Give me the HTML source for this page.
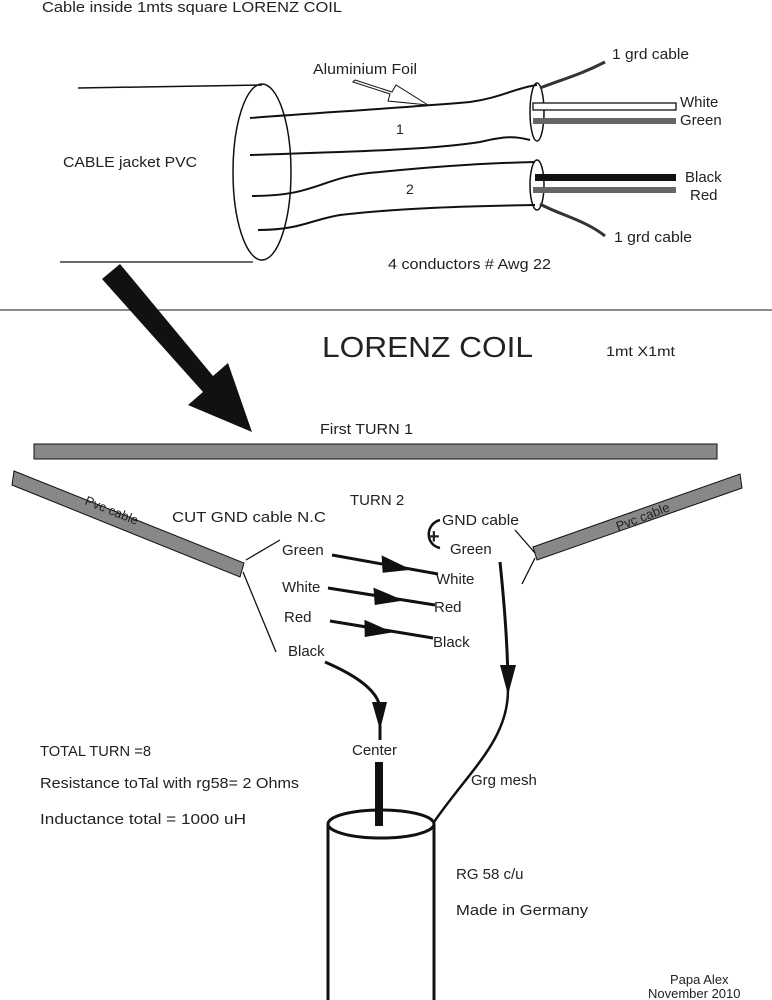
<!DOCTYPE html>
<html><head><style>
html,body{margin:0;padding:0;background:#fff;}
svg{display:block;}
text{font-family:"Liberation Sans",sans-serif;fill:#222;}
</style></head><body>
<svg width="772" height="1000" viewBox="0 0 772 1000" xmlns="http://www.w3.org/2000/svg">
<text x="42" y="12" font-size="15" textLength="300" lengthAdjust="spacingAndGlyphs">Cable inside  1mts square LORENZ  COIL</text>
<line x1="78" y1="88" x2="262" y2="85" stroke="#111" stroke-width="1.5"/>
<line x1="60" y1="262" x2="253" y2="262" stroke="#111" stroke-width="1.3"/>
<ellipse cx="262" cy="172" rx="29" ry="88" fill="none" stroke="#111" stroke-width="1.5"/>
<path d="M250,118 C330,112 400,108 470,102 C500,98 515,88 537,85" fill="none" stroke="#111" stroke-width="2"/>
<path d="M250,155 C340,152 430,150 480,142 C505,136 515,136 530,140" fill="none" stroke="#111" stroke-width="2"/>
<path d="M252,196 C320,196 320,176 380,172 C440,166 490,163 535,162" fill="none" stroke="#111" stroke-width="2"/>
<path d="M258,230 C300,230 310,220 340,215 C400,208 470,206 535,205" fill="none" stroke="#111" stroke-width="2"/>
<ellipse cx="537" cy="112" rx="7" ry="29" fill="none" stroke="#111" stroke-width="1.5"/>
<ellipse cx="537" cy="185" rx="7" ry="25" fill="none" stroke="#111" stroke-width="1.5"/>
<text x="396" y="134" font-size="14">1</text>
<text x="406" y="194" font-size="14">2</text>
<rect x="533" y="103" width="143" height="7" fill="#fff" stroke="#111" stroke-width="1.3"/>
<rect x="533" y="118" width="143" height="6" fill="#666"/>
<rect x="535" y="174" width="141" height="7" fill="#111"/>
<rect x="533" y="187" width="143" height="6" fill="#666"/>
<text x="680" y="107" font-size="15">White</text>
<text x="680" y="125" font-size="15">Green</text>
<text x="685" y="182" font-size="15">Black</text>
<text x="690" y="200" font-size="15">Red</text>
<path d="M540,88 C560,80 580,75 605,62" fill="none" stroke="#333" stroke-width="3"/>
<path d="M540,204 C560,215 585,220 605,236" fill="none" stroke="#333" stroke-width="3"/>
<text x="612" y="59" font-size="15" textLength="77" lengthAdjust="spacingAndGlyphs">1 grd cable</text>
<text x="614" y="242" font-size="15" textLength="78" lengthAdjust="spacingAndGlyphs">1 grd cable</text>
<text x="313" y="74" font-size="15" textLength="104" lengthAdjust="spacingAndGlyphs">Aluminium Foil</text>
<path d="M355,80 L392,92 L396,85 L428,105 L388,101 L390,94 L353,82 z" fill="#fff" stroke="#111" stroke-width="1"/>
<text x="63" y="167" font-size="15" textLength="134" lengthAdjust="spacingAndGlyphs">CABLE jacket PVC</text>
<text x="388" y="269" font-size="15" textLength="163" lengthAdjust="spacingAndGlyphs">4 conductors # Awg 22</text>
<line x1="0" y1="310" x2="772" y2="310" stroke="#666" stroke-width="1.5"/>
<path d="M102,279 L120,264 L213,376 L228,363 L252,432 L188,405 L203,392 z" fill="#111"/>
<text x="322" y="357" font-size="29" textLength="211" lengthAdjust="spacingAndGlyphs">LORENZ COIL</text>
<text x="606" y="356" font-size="14" textLength="69" lengthAdjust="spacingAndGlyphs">1mt X1mt</text>
<text x="320" y="434" font-size="15" textLength="93" lengthAdjust="spacingAndGlyphs">First TURN 1</text>
<rect x="34" y="444" width="683" height="15" fill="#888" stroke="#111" stroke-width="1"/>
<path d="M14,471 L244,563 L240,577 L12,485 z" fill="#888" stroke="#111" stroke-width="1"/>
<text x="0" y="0" font-size="13" transform="translate(84,504) rotate(22)">Pvc cable</text>
<path d="M533,547 L740,474 L742,488 L537,560 z" fill="#888" stroke="#111" stroke-width="1"/>
<text x="0" y="0" font-size="13" transform="translate(618,531) rotate(-21)">Pvc cable</text>
<line x1="246" y1="560" x2="280" y2="540" stroke="#111" stroke-width="1.3"/>
<line x1="243" y1="572" x2="276" y2="652" stroke="#111" stroke-width="1.3"/>
<line x1="515" y1="530" x2="535" y2="553" stroke="#111" stroke-width="1.3"/>
<line x1="535" y1="558" x2="522" y2="584" stroke="#111" stroke-width="1.3"/>
<text x="172" y="522" font-size="15" textLength="154" lengthAdjust="spacingAndGlyphs">CUT  GND cable N.C</text>
<text x="350" y="505" font-size="15">TURN 2</text>
<text x="442" y="525" font-size="15" textLength="77" lengthAdjust="spacingAndGlyphs">GND cable</text>
<text x="450" y="554" font-size="15">Green</text>
<path d="M440,520 C425,524 425,545 440,548" fill="none" stroke="#111" stroke-width="2.5"/>
<text x="428" y="543" font-size="20" font-weight="bold">+</text>
<text x="282" y="555" font-size="15">Green</text>
<text x="282" y="592" font-size="15">White</text>
<text x="284" y="622" font-size="15">Red</text>
<text x="288" y="656" font-size="15">Black</text>
<text x="436" y="584" font-size="15">White</text>
<text x="434" y="612" font-size="15">Red</text>
<text x="433" y="647" font-size="15">Black</text>
<g stroke="#111" stroke-width="3">
<line x1="332" y1="555" x2="438" y2="574"/>
<line x1="328" y1="588" x2="435" y2="605"/>
<line x1="330" y1="621" x2="433" y2="638"/>
</g>
<path d="M380,558 L412,567 L384,575 z" fill="#111" transform="rotate(10 396 566)"/>
<path d="M372,590 L404,598 L376,607 z" fill="#111" transform="rotate(9 388 598)"/>
<path d="M363,622 L393,630 L366,639 z" fill="#111" transform="rotate(9 378 630)"/>
<path d="M325,662 C355,675 378,690 380,708" fill="none" stroke="#111" stroke-width="3"/>
<path d="M372,702 L387,702 L380,730 z" fill="#111"/>
<line x1="380" y1="725" x2="380" y2="740" stroke="#111" stroke-width="3"/>
<text x="352" y="755" font-size="15">Center</text>
<rect x="375" y="762" width="8" height="64" fill="#111"/>
<path d="M500,562 C505,610 508,650 508,690" fill="none" stroke="#111" stroke-width="3"/>
<path d="M500,665 L516,665 L508,695 z" fill="#111"/>
<path d="M508,690 C508,740 470,770 434,822" fill="none" stroke="#111" stroke-width="2.5"/>
<text x="471" y="785" font-size="15">Grg mesh</text>
<text x="40" y="756" font-size="15" textLength="111" lengthAdjust="spacingAndGlyphs">TOTAL TURN =8</text>
<text x="40" y="788" font-size="15" textLength="259" lengthAdjust="spacingAndGlyphs">Resistance toTal  with rg58= 2 Ohms</text>
<text x="40" y="824" font-size="15" textLength="206" lengthAdjust="spacingAndGlyphs">Inductance total = 1000 uH</text>
<ellipse cx="381" cy="824" rx="53" ry="14" fill="none" stroke="#111" stroke-width="3"/>
<line x1="328" y1="824" x2="328" y2="1000" stroke="#111" stroke-width="3"/>
<line x1="434" y1="824" x2="434" y2="1000" stroke="#111" stroke-width="3"/>
<text x="456" y="879" font-size="15">RG 58 c/u</text>
<text x="456" y="915" font-size="15" textLength="132" lengthAdjust="spacingAndGlyphs">Made  in Germany</text>
<text x="670" y="984" font-size="13">Papa Alex</text>
<text x="648" y="998" font-size="13">November 2010</text>
</svg>
</body></html>
